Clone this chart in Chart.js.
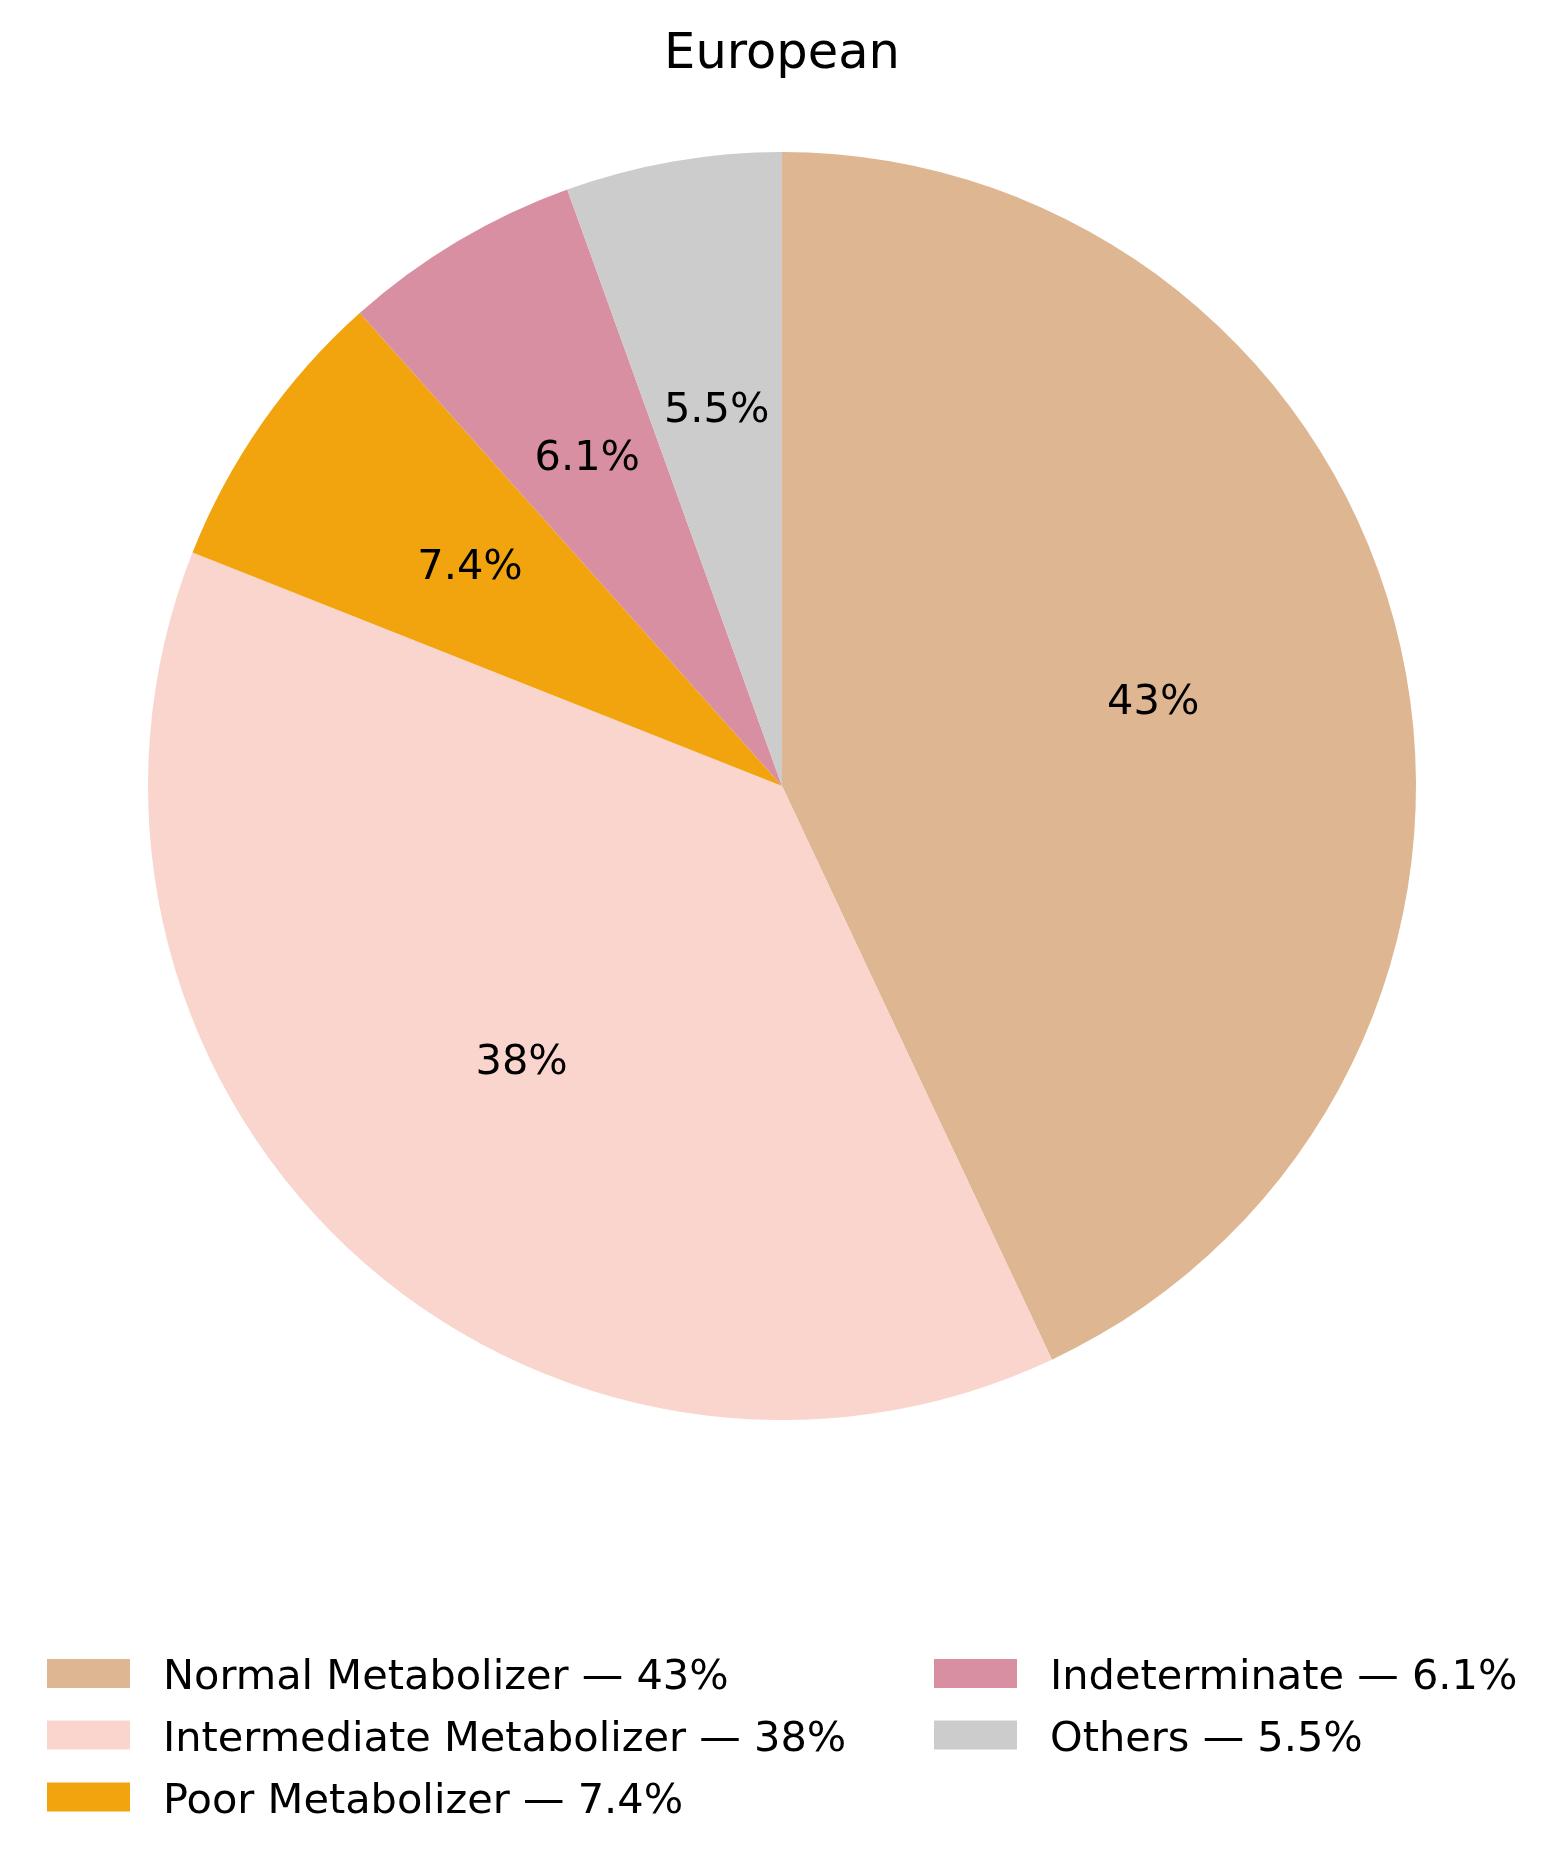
<!DOCTYPE html>
<html>
<head>
<meta charset="utf-8">
<script src="https://cdn.jsdelivr.net/npm/chart.js@4"></script>
<style>
    html, body { margin: 0; padding: 0; background: #ffffff; }
    #wrap { width: 1564px; height: 1869px; position: relative; }
</style>
</head>
<body>
<div id="wrap"><canvas id="pieChart" width="1564" height="1869"></canvas></div>
<script>
const TITLE = 'European';
const categories = ['Normal Metabolizer', 'Intermediate Metabolizer', 'Poor Metabolizer', 'Indeterminate', 'Others'];
const shares = [43.0, 38.0, 7.4, 6.1, 5.5]; // percent
const colors = ['#deb692', '#fad5ce', '#f1a40e', '#d88fa1', '#cccccc'];

const FONT = '"DejaVu Sans", sans-serif';

function pctText(v) {
    return (v >= 10 ? v.toFixed(0) : v.toFixed(1)) + '%';
}

// title + percentage labels + legend, drawn after the slices
const extras = {
    id: 'extras',
    afterDraw(chart) {
        const ctx = chart.ctx;
        ctx.save();
        ctx.fillStyle = '#000000';

        // title
        ctx.font = '49.5px ' + FONT;
        ctx.textAlign = 'center';
        ctx.textBaseline = 'alphabetic';
        ctx.fillText(TITLE, 782, 68);

        // percentage labels at 0.6 radius
        ctx.font = '41.5px ' + FONT;
        ctx.textBaseline = 'middle';
        chart.getDatasetMeta(0).data.forEach((arc, i) => {
            const mid = (arc.startAngle + arc.endAngle) / 2;
            const r = arc.outerRadius * 0.6;
            ctx.fillText(pctText(shares[i]), arc.x + Math.cos(mid) * r, arc.y + Math.sin(mid) * r);
        });

        // legend: 2 columns, column-major
        ctx.textAlign = 'left';
        ctx.textBaseline = 'alphabetic';
        const colX = [47, 934];
        const rowBase = [1689, 1750.5, 1812.5];
        categories.forEach((name, i) => {
            const col = i < 3 ? 0 : 1;
            const row = i < 3 ? i : i - 3;
            const x = colX[col];
            const base = rowBase[row];
            ctx.fillStyle = colors[i];
            ctx.fillRect(x, base - 30, 83, 29);
            ctx.fillStyle = '#000000';
            ctx.fillText(name + ' \u2014 ' + pctText(shares[i]), x + 116, base);
        });
        ctx.restore();
    }
};

window.onload = function() {
    const ctx = document.getElementById('pieChart').getContext('2d');
    new Chart(ctx, {
        type: 'pie',
        data: {
            labels: categories,
            datasets: [{
                data: shares,
                backgroundColor: colors,
                borderWidth: 0
            }]
        },
        options: {
            responsive: false,
            animation: false,
            layout: {
                padding: { left: 148, right: 148, top: 152, bottom: 449 }
            },
            plugins: {
                legend: { display: false },
                title: { display: false },
                tooltip: { enabled: false }
            }
        },
        plugins: [extras]
    });
};
</script>
</body>
</html>
